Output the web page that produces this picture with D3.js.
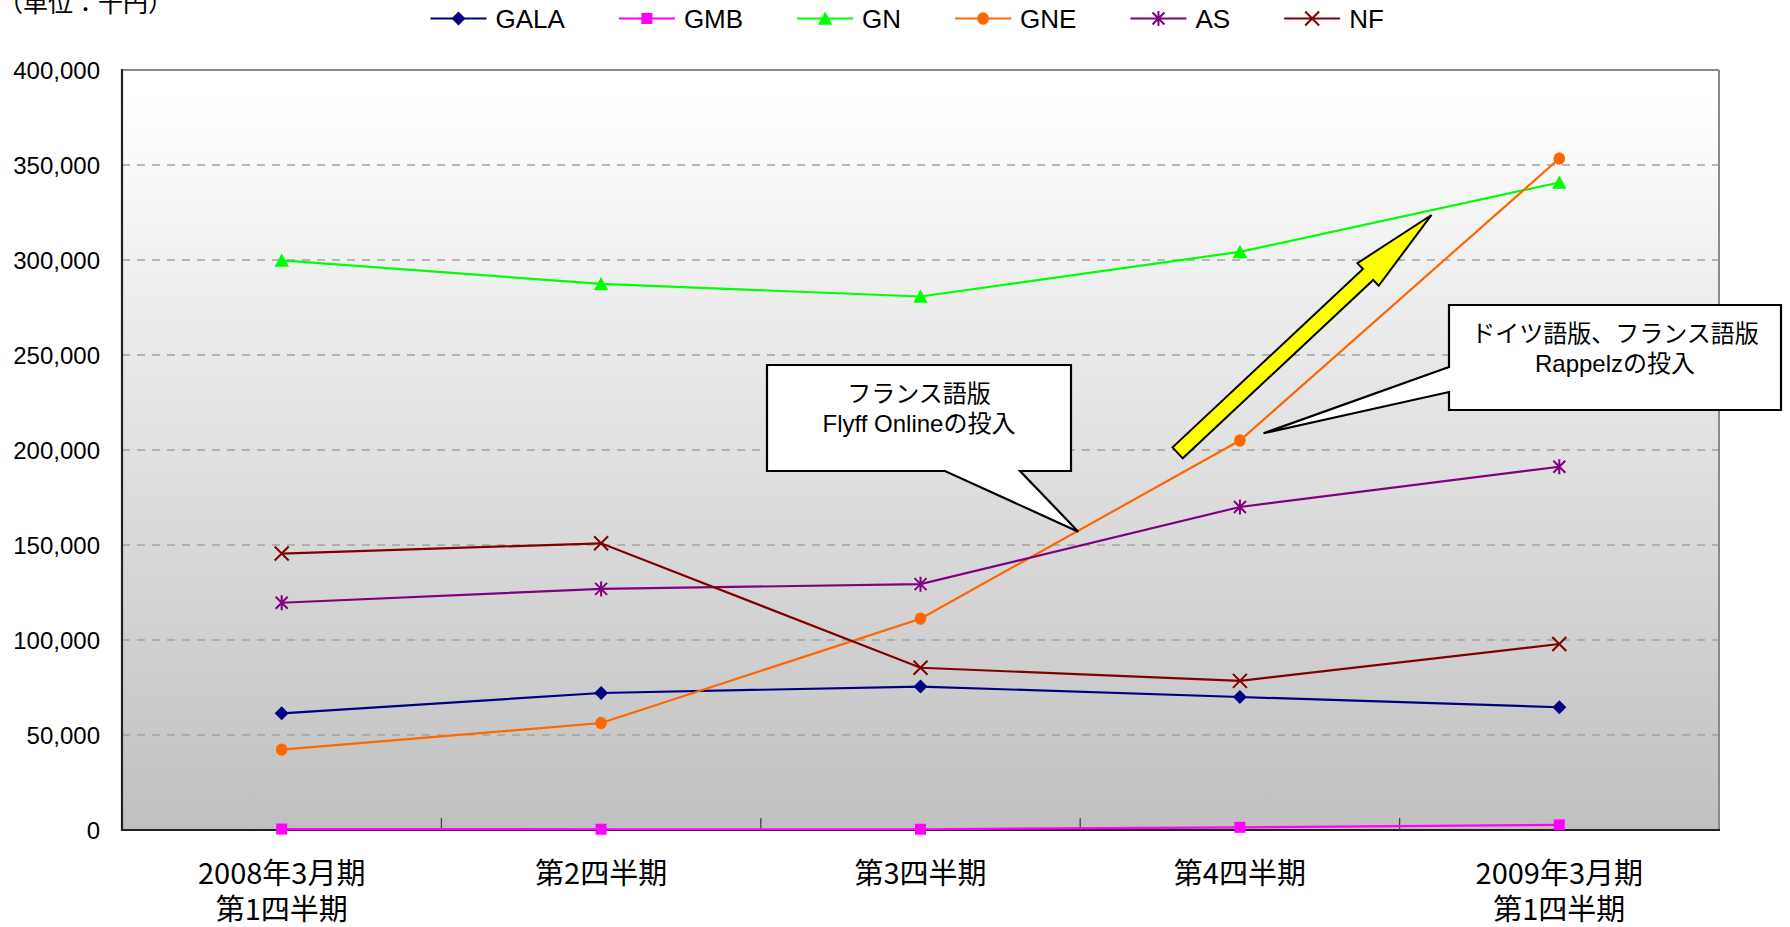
<!DOCTYPE html>
<html><head><meta charset="utf-8">
<script src="https://cdn.jsdelivr.net/npm/d3@7"></script>
<style>body{margin:0;background:#fff;} svg{display:block;}</style>
</head><body>
<svg id="chart" width="1790" height="927"></svg>
<script>
// ---------------- data ----------------
const categories = ["2008年3月期\n第1四半期", "第2四半期", "第3四半期", "第4四半期", "2009年3月期\n第1四半期"];
const seriesNames = ["GALA", "GMB", "GN", "GNE", "AS", "NF"];
const GALA = [61400, 72100, 75500, 70000, 64600];
const GMB  = [500, 400, 400, 1400, 2700];
const GN   = [299800, 287400, 280800, 304300, 340800];
const GNE  = [42300, 56300, 111200, 205000, 353400];
const AS   = [119600, 126900, 129400, 170000, 191200];
const NF   = [145500, 150900, 85400, 78500, 97900];
const yTicks = [0, 50000, 100000, 150000, 200000, 250000, 300000, 350000, 400000];
const unitLabel = "（単位：千円）";
const callout1Text = ["フランス語版", "Flyff Onlineの投入"];
const callout2Text = ["ドイツ語版、フランス語版", "Rappelzの投入"];

// ---------------- styles ----------------
const seriesValues = [GALA, GMB, GN, GNE, AS, NF];
const seriesColors = ["#000080", "#ff00ff", "#00ff00", "#ff6600", "#800080", "#800000"];
const seriesMarkers = ["diamond", "square", "triangle", "circle", "asterisk", "cross"];
const latin = "'Liberation Sans', Arial, 'Noto Sans CJK JP', sans-serif";
const cjk = "'Noto Sans CJK JP', 'Liberation Sans', sans-serif";

const svg = d3.select("#chart");
const plot = {left: 122, right: 1719, top: 70, bottom: 830};

const x = d3.scaleBand().domain(categories).range([plot.left, plot.right]).padding(0);
const xIdx = d3.scaleLinear().domain([-0.5, categories.length - 0.5]).range([plot.left, plot.right]);
const y = d3.scaleLinear().domain([0, 400000]).range([plot.bottom, plot.top]);
const cx = c => x(c) + x.bandwidth() / 2;

// gradient
const defs = svg.append("defs");
const grad = defs.append("linearGradient").attr("id", "bg").attr("x1", 0).attr("y1", 0).attr("x2", 0).attr("y2", 1);
grad.append("stop").attr("offset", "0").attr("stop-color", "#ffffff");
grad.append("stop").attr("offset", "0.03").attr("stop-color", "#ffffff");
grad.append("stop").attr("offset", "1").attr("stop-color", "#c0c0c0");

svg.append("rect").attr("x", plot.left).attr("y", plot.top)
  .attr("width", plot.right - plot.left).attr("height", plot.bottom - plot.top)
  .attr("fill", "url(#bg)");

// gridlines
svg.append("g").selectAll("line").data(yTicks.filter(t => t > 0 && t < 400000)).join("line")
  .attr("x1", plot.left).attr("x2", plot.right)
  .attr("y1", d => y(d)).attr("y2", d => y(d))
  .attr("stroke", "#a3a3a3").attr("stroke-width", 1.6).attr("stroke-dasharray", "8,7");

// frame
svg.append("line").attr("x1", plot.left).attr("x2", plot.right).attr("y1", plot.top).attr("y2", plot.top).attr("stroke", "#8a8a8a").attr("stroke-width", 2);
svg.append("line").attr("x1", plot.right).attr("x2", plot.right).attr("y1", plot.top).attr("y2", plot.bottom).attr("stroke", "#8a8a8a").attr("stroke-width", 2);
svg.append("line").attr("x1", plot.left).attr("x2", plot.left).attr("y1", plot.top - 1).attr("y2", plot.bottom + 1).attr("stroke", "#222").attr("stroke-width", 2.2);
svg.append("line").attr("x1", plot.left).attr("x2", plot.right + 1).attr("y1", plot.bottom).attr("y2", plot.bottom).attr("stroke", "#222").attr("stroke-width", 2.2);

// category boundary ticks
svg.append("g").selectAll("line").data(categories.slice(1)).join("line")
  .attr("x1", d => x(d)).attr("x2", d => x(d))
  .attr("y1", plot.bottom - 12).attr("y2", plot.bottom)
  .attr("stroke", "#444").attr("stroke-width", 1.3);

// y axis
const yAxis = svg.append("g").attr("transform", `translate(${plot.left},0)`)
  .call(d3.axisLeft(y).tickValues(yTicks).tickFormat(d3.format(",")).tickSize(0).tickPadding(22));
yAxis.select(".domain").remove();
yAxis.selectAll("text").attr("font-family", latin).attr("font-size", 24).attr("fill", "#000").attr("dy", "0.35em");

// x labels
const xl = svg.append("g").selectAll("text").data(categories).join("text")
  .attr("text-anchor", "middle").attr("font-family", cjk).attr("font-size", 29).attr("fill", "#000");
xl.each(function(d) {
  const t = d3.select(this);
  d.split("\n").forEach((line, i) => {
    t.append("tspan").attr("x", cx(d)).attr("y", 884 + i * 36).text(line);
  });
});

// markers
function marker(g, type, color) {
  if (type === "diamond") g.append("path").attr("d", "M0,-7L7,0L0,7L-7,0Z").attr("fill", color);
  else if (type === "square") g.append("rect").attr("x", -5.5).attr("y", -5.5).attr("width", 11).attr("height", 11).attr("fill", color);
  else if (type === "triangle") g.append("path").attr("d", "M0,-7L7.2,6.3L-7.2,6.3Z").attr("fill", color);
  else if (type === "circle") g.append("ellipse").attr("rx", 5.8).attr("ry", 6.2).attr("fill", color);
  else if (type === "asterisk") g.append("path").attr("d", "M0,-7.5L0,7.5M-6,-6L6,6M-6,6L6,-6").attr("stroke", color).attr("stroke-width", 2).attr("fill", "none");
  else if (type === "cross") g.append("path").attr("d", "M-7,-7L7,7M-7,7L7,-7").attr("stroke", color).attr("stroke-width", 2).attr("fill", "none");
}

// lines
const lineGen = d3.line().x((d, i) => cx(categories[i])).y(d => y(d));
seriesNames.forEach((name, s) => {
  const g = svg.append("g").attr("class", "series-" + name);
  g.append("path").attr("d", lineGen(seriesValues[s])).attr("fill", "none")
    .attr("stroke", seriesColors[s]).attr("stroke-width", 2.2);
  seriesValues[s].forEach((v, i) => {
    const m = g.append("g").attr("transform", `translate(${cx(categories[i])},${y(v)})`);
    marker(m, seriesMarkers[s], seriesColors[s]);
  });
});

// legend
let lx = 430.5;
const legY = 18.5;
const leg = svg.append("g");
seriesNames.forEach((name, s) => {
  leg.append("line").attr("x1", lx).attr("x2", lx + 56).attr("y1", legY).attr("y2", legY)
    .attr("stroke", seriesColors[s]).attr("stroke-width", 2.2);
  const m = leg.append("g").attr("transform", `translate(${lx + 28},${legY})`);
  marker(m, seriesMarkers[s], seriesColors[s]);
  const t = leg.append("text").attr("x", lx + 65).attr("y", 28).attr("font-family", latin)
    .attr("font-size", 26).attr("fill", "#000").text(name);
  lx = lx + 65 + t.node().getComputedTextLength() + 54;
});

// unit label
svg.append("text").attr("x", -2).attr("y", 12).attr("font-family", cjk).attr("font-size", 25)
  .attr("fill", "#000").text(unitLabel);

// yellow arrow (anchored in data space)
(function() {
  const tail = [xIdx(2.805), y(198500)];
  const tip = [xIdx(3.60), y(323700)];
  const dx = tip[0] - tail[0], dy = tip[1] - tail[1];
  const L = Math.hypot(dx, dy);
  const u = [dx / L, dy / L], n = [-u[1], u[0]];
  const sw = 7.5, hw = 15.5, hl = 87;
  const P = (a, p) => [tail[0] + u[0] * a + n[0] * p, tail[1] + u[1] * a + n[1] * p];
  const pts = [P(0, -sw), P(L - hl, -sw), P(L - hl, -hw), P(L, 0), P(L - hl, hw), P(L - hl, sw), P(0, sw)];
  svg.append("path").attr("d", "M" + pts.map(p => p.join(",")).join("L") + "Z")
    .attr("fill", "#ffff00").attr("stroke", "#000").attr("stroke-width", 2).attr("stroke-linejoin", "miter");
})();

// callouts
function callout(box, pts, lines) {
  svg.append("path").attr("d", "M" + pts.map(p => p.join(",")).join("L") + "Z")
    .attr("fill", "#fff").attr("stroke", "#000").attr("stroke-width", 2.2).attr("stroke-linejoin", "miter");
  const t = svg.append("text").attr("text-anchor", "middle").attr("font-family", latin)
    .attr("font-size", 24).attr("fill", "#000");
  lines.forEach((l, i) => {
    t.append("tspan").attr("x", (box.x0 + box.x1) / 2).attr("y", box.y0 + 37 + i * 30).text(l);
  });
}
(function() {
  const b = {x0: 767, x1: 1071, y0: 365, y1: 471};
  const tip = [xIdx(2.494), y(157000)];
  callout(b, [[b.x0, b.y0], [b.x1, b.y0], [b.x1, b.y1], [1020, b.y1], tip, [945, b.y1], [b.x0, b.y1]], callout1Text);
})();
(function() {
  const b = {x0: 1449, x1: 1781, y0: 305, y1: 410};
  const tip = [xIdx(3.074), y(208800)];
  callout(b, [[b.x0, b.y0], [b.x1, b.y0], [b.x1, b.y1], [b.x0, b.y1], [b.x0, 392], tip, [b.x0, 367]], callout2Text);
})();
</script>
</body></html>
